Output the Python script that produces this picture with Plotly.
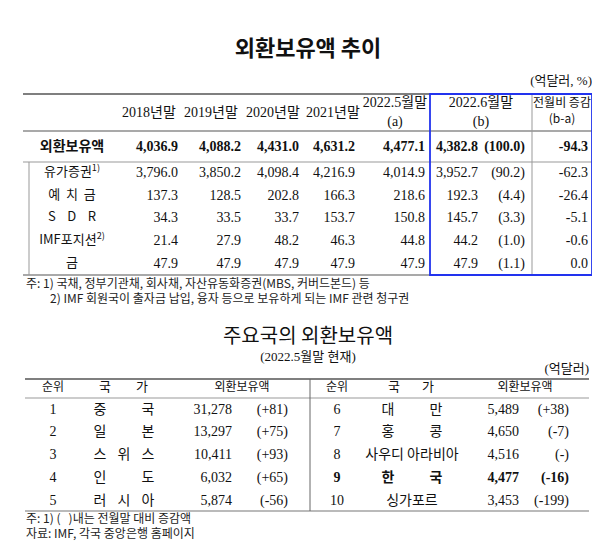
import plotly.graph_objects as go

# ---- 데이터: 외환보유액 추이 ----
col_heads = ["2018년말", "2019년말", "2020년말", "2021년말", "2022.5월말<br>(a)", "2022.6월말<br>(b)"]
change_head = "전월비 증감<br>(b-a)"
total_label = "외환보유액"
total_vals = ["4,036.9", "4,088.2", "4,431.0", "4,631.2", "4,477.1", "4,382.8", "(100.0)", "-94.3"]
item_labels = ["유가증권<sup>1)</sup>", "예  치  금", "S    D    R", "IMF포지션<sup>2)</sup>", "금"]
item_vals = [
    ["3,796.0", "3,850.2", "4,098.4", "4,216.9", "4,014.9", "3,952.7", "(90.2)", "-62.3"],
    ["137.3", "128.5", "202.8", "166.3", "218.6", "192.3", "(4.4)", "-26.4"],
    ["34.3", "33.5", "33.7", "153.7", "150.8", "145.7", "(3.3)", "-5.1"],
    ["21.4", "27.9", "48.2", "46.3", "44.8", "44.2", "(1.0)", "-0.6"],
    ["47.9", "47.9", "47.9", "47.9", "47.9", "47.9", "(1.1)", "0.0"],
]
note1_a = "주: 1) 국채, 정부기관채, 회사채, 자산유동화증권(MBS, 커버드본드) 등"
note1_b = "2) IMF 회원국이 출자금 납입, 융자 등으로 보유하게 되는 IMF 관련 청구권"

# ---- 데이터: 주요국의 외환보유액 ----
ranks_l = ["1", "2", "3", "4", "5"]
countries_l = ["중국", "일본", "스위스", "인도", "러시아"]
reserves_l = ["31,278", "13,297", "10,411", "6,032", "5,874"]
changes_l = ["(+81)", "(+75)", "(+93)", "(+65)", "(-56)"]
ranks_r = ["6", "7", "8", "9", "10"]
countries_r = ["대만", "홍콩", "사우디 아라비아", "한국", "싱가포르"]
reserves_r = ["5,489", "4,650", "4,516", "4,477", "3,453"]
changes_r = ["(+38)", "(-7)", "(-)", "(-16)", "(-199)"]
notes2 = ["주: 1) (   )내는 전월말 대비 증감액", "자료: IMF, 각국 중앙은행 홈페이지"]

FONT = "Liberation Serif, Noto Sans CJK KR, serif"
SANS = "Noto Sans CJK KR, sans-serif"
fig = go.Figure()

def txt(xs, ys, texts, pos="middle center", size=14, color="#111", family=FONT):
    fig.add_trace(go.Scatter(x=xs, y=ys, text=texts, mode="text", textposition=pos,
                             textfont=dict(size=size, color=color, family=family),
                             hoverinfo="skip", showlegend=False))

def hline(x0, x1, y, color="#666", w=1.2):
    fig.add_shape(type="line", x0=x0, x1=x1, y0=y, y1=y, line=dict(color=color, width=w))

def vline(x, y0, y1, color="#999", w=1):
    fig.add_shape(type="line", x0=x, x1=x, y0=y0, y1=y1, line=dict(color=color, width=w))

def spread(name, x0, x1, y, bold=False, size=14):
    n = len(name)
    for i, c in enumerate(name):
        x = x0 + (x1 - x0) * i / (n - 1)
        txt([x], [y], [f"<b>{c}</b>" if bold else c], size=size, family=SANS)

# ---- 상단 표 ----
txt([300], [42], ["<b>외환보유액 추이</b>"], size=22, family=SANS)
txt([584], [74], ["(억달러, %)"], pos="middle left", size=13)
hline(15, 584, 86, "#555", 1.5)
hline(15, 584, 123, "#555", 1.2)
hline(15, 584, 154, "#999", 1)
hline(15, 584, 267, "#555", 1.2)
vline(21, 154, 267)
vline(524, 86, 267)
fig.add_shape(type="rect", x0=422, x1=584, y0=86, y1=267, line=dict(color="#2233ee", width=1.8))

head_x = [141, 203, 265, 325, 387, 473]
txt(head_x, [105] * 6, col_heads, size=14)
txt([554], [104], [change_head], size=12, family=SANS)

val_x = [170, 233, 291, 347, 417, 470, 517, 580]
txt([64], [139], [f"<b>{total_label}</b>"], size=14, family=SANS)
txt(val_x, [139] * 8, [f"<b>{v}</b>" for v in total_vals], pos="middle left", size=14)

row_y = [165, 188, 210, 233, 256]
txt([64] * 5, row_y, item_labels, size=13, family=SANS)
for j, xv in enumerate(val_x):
    txt([xv] * 5, row_y, [r[j] for r in item_vals], pos="middle left", size=14)
txt([18], [277], [note1_a], pos="middle right", size=12, color="#222", family=SANS)
txt([42], [292], [note1_b], pos="middle right", size=12, color="#222", family=SANS)

# ---- 하단 표 ----
txt([300], [330], ["주요국의 외환보유액"], size=20, family=SANS)
txt([300], [350], ["(2022.5월말 현재)"], size=13)
txt([581], [362], ["(억달러)"], pos="middle left", size=13)
hline(17, 581, 371, "#555", 1.5)
hline(17, 581, 390, "#999", 1)
hline(17, 581, 503, "#777", 1.2)
vline(302, 371, 503, "#666")

txt([45, 329], [380, 380], ["순위", "순위"], size=12, family=SANS)
spread("국가", 97, 134, 380, size=13)
spread("국가", 386, 420, 380, size=13)
txt([234, 517], [380, 380], ["외환보유액", "외환보유액"], size=12, family=SANS)

r_y = [402, 424, 447, 470, 493]
txt([45] * 5, r_y, ranks_l)
for name, y in zip(countries_l, r_y):
    spread(name, 92, 140, y)
txt([224] * 5, r_y, reserves_l, pos="middle left")
txt([280] * 5, r_y, changes_l, pos="middle left")

bold_r = [c == "한국" for c in countries_r]
b = lambda vals: [f"<b>{v}</b>" if f else v for v, f in zip(vals, bold_r)]
txt([329] * 5, r_y, b(ranks_r))
for name, y, f in zip(countries_r, r_y, bold_r):
    if len(name) == 2:
        spread(name, 380, 428, y, bold=f)
    else:
        txt([404], [y], [name], size=14, family=SANS)
txt([511] * 5, r_y, b(reserves_r), pos="middle left")
txt([561] * 5, r_y, b(changes_r), pos="middle left")
txt([18, 18], [512, 527], notes2, pos="middle right", size=12, color="#222", family=SANS)

fig.update_layout(
    width=600, height=556, margin=dict(l=0, r=0, t=0, b=0),
    plot_bgcolor="white", paper_bgcolor="white",
    xaxis=dict(range=[0, 600], visible=False, fixedrange=True),
    yaxis=dict(range=[556, 0], visible=False, fixedrange=True),
)
fig.write_html("out.html")
